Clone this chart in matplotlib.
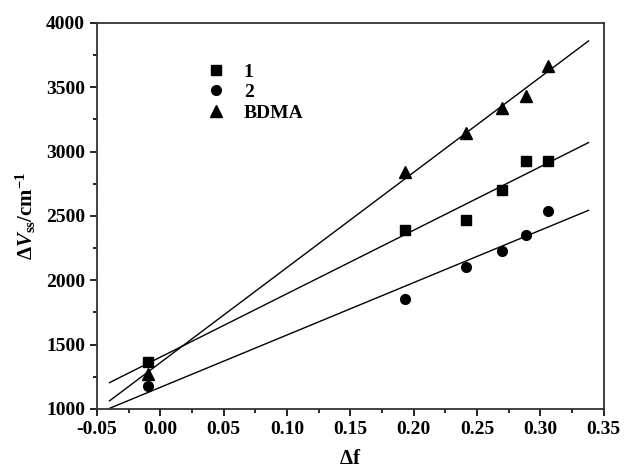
import matplotlib
matplotlib.use('Agg')
import matplotlib.pyplot as plt
import numpy as np
from matplotlib.ticker import MultipleLocator

plt.rcParams['font.family'] = ['Liberation Serif', 'DejaVu Serif']
plt.rcParams['font.weight'] = 'bold'
plt.rcParams['mathtext.fontset'] = 'custom'
plt.rcParams['mathtext.rm'] = 'Liberation Serif:bold'
plt.rcParams['mathtext.it'] = 'Liberation Serif:italic:bold'
plt.rcParams['mathtext.bf'] = 'Liberation Serif:bold'

delta_f = [-0.01, 0.193, 0.241, 0.27, 0.289, 0.306]
series_1 = [1365, 2390, 2465, 2700, 2925, 2930]
series_2 = [1175, 1855, 2105, 2230, 2355, 2535]
series_bdma = [1270, 2845, 3145, 3340, 3430, 3665]
names = ['1', '2', 'BDMA']
markers = ['s', 'o', '^']
marker_sizes = [6.5, 7, 8]
fit_range = [-0.04, 0.338]

fig = plt.figure(figsize=(6.25, 4.69), dpi=100)
ax = fig.add_axes([0.155, 0.128, 0.811, 0.823])

for ys, name, m, ms in zip([series_1, series_2, series_bdma], names, markers, marker_sizes):
    ax.plot(delta_f, ys, linestyle='none', marker=m, color='black',
            markersize=ms, label=name)
    # linear fit through the points
    k, b = np.polyfit(delta_f, ys, 1)
    xs = np.array(fit_range)
    ax.plot(xs, k * xs + b, color='black', linewidth=1)

ax.set_xlim(-0.05, 0.35)
ax.set_ylim(1000, 4000)
ax.xaxis.set_major_locator(MultipleLocator(0.05))
ax.xaxis.set_minor_locator(MultipleLocator(0.025))
ax.yaxis.set_major_locator(MultipleLocator(500))
ax.yaxis.set_minor_locator(MultipleLocator(250))
ax.xaxis.set_major_formatter(plt.FuncFormatter(lambda v, p: f'{v:.2f}'))
ax.tick_params(which='both', direction='out', top=False, right=False, labelsize=14, width=1.2)
ax.tick_params(which='major', length=5)
ax.tick_params(which='minor', length=3)
for s in ax.spines.values():
    s.set_linewidth(1.3)
    s.set_color('#333333')

ax.set_xlabel(r'$\Delta$f', fontsize=15, fontweight='bold', labelpad=8)
ax.set_ylabel(r'$\it{\Delta V}_{\rm{ss}}\rm{/cm}^{-1}$', fontsize=15, labelpad=6)

ax.legend(loc='upper left', bbox_to_anchor=(0.196, 0.896), frameon=False, fontsize=14,
          handletextpad=0.45, labelspacing=0.15, borderaxespad=0, borderpad=0)

fig.savefig('out.png', dpi=100)
